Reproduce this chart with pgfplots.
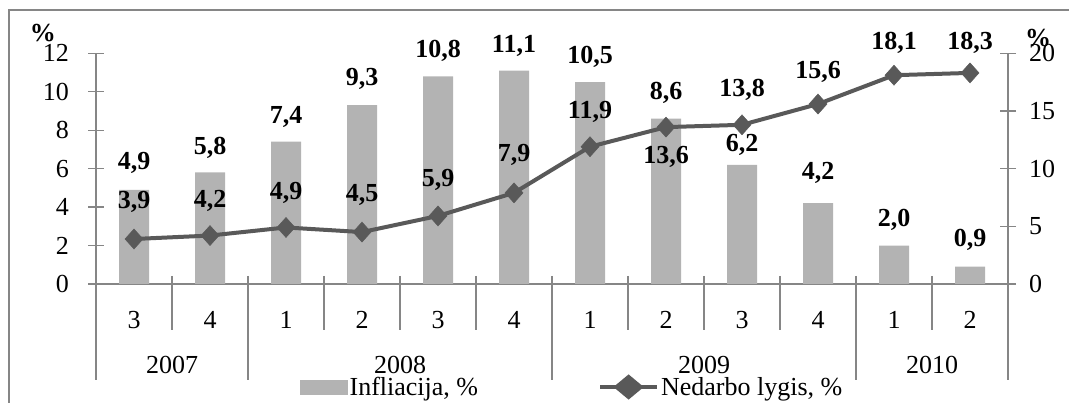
\documentclass[border=0pt]{standalone}
\usepackage{pgfplots}
\pgfplotsset{compat=1.18}
\usepackage{pgfplotstable}
\usepackage{fontspec}
\setmainfont{Liberation Serif}
\definecolor{barcol}{HTML}{B3B3B3}
\definecolor{linecol}{HTML}{595959}
\definecolor{axgray}{HTML}{868686}
\newcommand{\fs}{\fontsize{26}{30}\selectfont}
\tikzset{numfmt/.style={/pgf/number format/use comma, /pgf/number format/fixed, /pgf/number format/fixed zerofill, /pgf/number format/precision=1, /pgf/number format/assume math mode=true}}
\pgfplotstableread{
x infl dyb unemp dyl
0 4.9 27 3.9 37
1 5.8 25 4.2 35
2 7.4 25 4.9 35
3 9.3 26 4.5 37
4 10.8 25 5.9 36
5 11.1 25 7.9 38
6 10.5 25 11.9 35
7 8.6 26 13.6 -30
8 6.2 20 13.8 35
9 4.2 30 15.6 32
10 2.0 26 18.1 32
11 0.9 27 18.3 30
}\data
\begin{document}
\begin{tikzpicture}
\useasboundingbox (0pt,0pt) rectangle (1069pt,403pt);
\draw[axgray, line width=1.5pt] (9pt,-5pt) -- (9pt,393pt) -- (1075pt,393pt);
\node[font=\fs\bfseries] at (43pt,370pt) {\%};
\node[font=\fs\bfseries] at (1038pt,365pt) {\%};
\begin{axis}[
  at={(96pt,119pt)}, anchor=south west,
  scale only axis, width=912pt, height=230.7pt,
  xmin=-0.5, xmax=11.5, ymin=0, ymax=12,
  axis y line*=left, axis x line*=bottom,
  axis line style={-, draw=axgray, line width=1.3pt},
  ytick={0,2,...,12},
  xtick={0,...,11}, xticklabels={3,4,1,2,3,4,1,2,3,4,1,2},
  x tick style={draw=none},
  y tick style={draw=axgray, line width=1.3pt},
  major tick length=16pt, tick align=center,
  tick label style={font=\fs},
  /pgf/number format/assume math mode=true,
  yticklabel style={anchor=east, inner sep=0pt, xshift=-19pt},
  xticklabel style={anchor=center, inner sep=0pt, yshift=-20pt},
  clip=false,
  ybar, bar width=30pt,
]
\addplot[fill=barcol, draw=none,
  nodes near coords,
  nodes near coords style={font=\fs\bfseries, numfmt},
  visualization depends on={\thisrow{dyb} \as \dyb},
  every node near coord/.append style={anchor=center, yshift=\dyb pt}]
  table[x=x, y=infl] {\data};
% category separators
\draw[axgray, line width=1.3pt] (axis cs:0.5,0) ++(0pt,8pt) -- ++(0pt,-54pt);
\draw[axgray, line width=1.3pt] (axis cs:2.5,0) ++(0pt,8pt) -- ++(0pt,-54pt);
\draw[axgray, line width=1.3pt] (axis cs:3.5,0) ++(0pt,8pt) -- ++(0pt,-54pt);
\draw[axgray, line width=1.3pt] (axis cs:4.5,0) ++(0pt,8pt) -- ++(0pt,-54pt);
\draw[axgray, line width=1.3pt] (axis cs:6.5,0) ++(0pt,8pt) -- ++(0pt,-54pt);
\draw[axgray, line width=1.3pt] (axis cs:7.5,0) ++(0pt,8pt) -- ++(0pt,-54pt);
\draw[axgray, line width=1.3pt] (axis cs:8.5,0) ++(0pt,8pt) -- ++(0pt,-54pt);
\draw[axgray, line width=1.3pt] (axis cs:10.5,0) ++(0pt,8pt) -- ++(0pt,-54pt);
\draw[axgray, line width=1.3pt] (axis cs:-0.5,0) -- ++(0pt,-96pt);
\draw[axgray, line width=1.3pt] (axis cs:1.5,0) ++(0pt,8pt) -- ++(0pt,-104pt);
\draw[axgray, line width=1.3pt] (axis cs:5.5,0) ++(0pt,8pt) -- ++(0pt,-104pt);
\draw[axgray, line width=1.3pt] (axis cs:9.5,0) ++(0pt,8pt) -- ++(0pt,-104pt);
\draw[axgray, line width=1.3pt] (axis cs:11.5,0) ++(0pt,8pt) -- ++(0pt,-104pt);
\node[font=\fs] at ([yshift=-81pt]axis cs:0.5,0) {2007};
\node[font=\fs] at ([yshift=-81pt]axis cs:3.5,0) {2008};
\node[font=\fs] at ([yshift=-81pt]axis cs:7.5,0) {2009};
\node[font=\fs] at ([yshift=-81pt]axis cs:10.5,0) {2010};
\end{axis}
\begin{axis}[
  at={(96pt,119pt)}, anchor=south west,
  scale only axis, width=912pt, height=230.7pt,
  xmin=-0.5, xmax=11.5, ymin=0, ymax=20,
  axis y line*=right, axis x line=none,
  axis line style={-, draw=axgray, line width=1.3pt},
  ytick={0,5,...,20},
  y tick style={draw=axgray, line width=1.3pt},
  major tick length=16pt, tick align=center,
  tick label style={font=\fs},
  /pgf/number format/assume math mode=true,
  yticklabel style={anchor=west, inner sep=0pt, xshift=13pt},
  clip=false,
  legend style={at={(0.2237,-0.4465)}, anchor=west, draw=none, fill=none,
    font=\fs, legend columns=2, inner sep=0pt,
    nodes={inner sep=2pt},
    /tikz/every even column/.append style={column sep=118pt}},
  legend cell align=left,
]
\addlegendimage{legend image code/.code={\fill[barcol] (0pt,-7pt) rectangle (47pt,7pt);}}
\addlegendentry{Infliacija, \%}
\addplot[linecol, line width=4pt, mark=diamond*, mark size=10pt,
  mark options={fill=linecol, draw=linecol, line width=0.5pt, xscale=1.2},
  nodes near coords,
  nodes near coords style={font=\fs\bfseries, text=black, numfmt},
  visualization depends on={\thisrow{dyl} \as \dyl},
  every node near coord/.append style={anchor=center, yshift=\dyl pt},
  legend image code/.code={\draw[linecol, line width=4pt] (0pt,0pt) -- (57pt,0pt);
    \fill[linecol] (28.5pt,10pt) -- (40.5pt,0pt) -- (28.5pt,-10pt) -- (16.5pt,0pt) -- cycle;}]
  table[x=x, y=unemp] {\data};
\addlegendentry{Nedarbo lygis, \%}
\end{axis}
\end{tikzpicture}
\end{document}
